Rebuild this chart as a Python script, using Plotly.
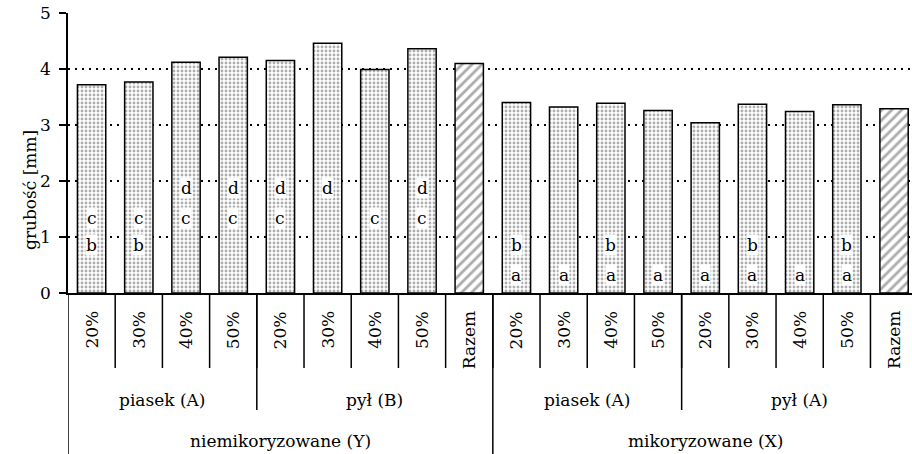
import plotly.graph_objects as go

# Thickness (mm) for each substrate concentration, grouped by substrate and mycorrhiza
konc = ["20%", "30%", "40%", "50%", "20%", "30%", "40%", "50%", "Razem",
        "20%", "30%", "40%", "50%", "20%", "30%", "40%", "50%", "Razem"]
grubosc = [3.72, 3.77, 4.12, 4.21, 4.15, 4.46, 3.99, 4.36, 4.10,
           3.40, 3.32, 3.39, 3.26, 3.04, 3.37, 3.24, 3.36, 3.29]
# homogeneous groups (letters) written inside each bar
litery = ["bc", "bc", "cd", "cd", "cd", "d", "c", "cd", "",
          "ab", "a", "ab", "a", "a", "ab", "a", "ab", ""]
# substrate groups: (label, first bar, last bar)
podloze = [("piasek (A)", 0, 3), ("pył (B)", 4, 8),
           ("piasek (A)", 9, 12), ("pył (A)", 13, 17)]
# mycorrhiza groups: (label, first bar, last bar)
mikoryza = [("niemikoryzowane (Y)", 0, 8), ("mikoryzowane (X)", 9, 17)]
y_ticks = [0, 1, 2, 3, 4, 5]

FONT = "DejaVu Serif"
W, H = 912, 454
ML, MR, MT, MB = 68, 0, 13, 161
PH = H - MT - MB


def py(pix):
    """pixel row -> paper y"""
    return (H - MB - pix) / PH


x = list(range(len(grubosc)))
is_total = [k == "Razem" for k in konc]

fig = go.Figure()
fig.add_trace(go.Bar(
    x=x, y=grubosc, width=0.6,
    marker=dict(
        color="white",
        line=dict(color="black", width=1.5),
        pattern=dict(
            shape=["/" if t else "." for t in is_total],
            fgcolor=["#5a5a5a" if t else "#5e5e5e" for t in is_total],
            bgcolor="white",
            size=[7 if t else 4 for t in is_total],
            solidity=[0.4 if t else 0.4 for t in is_total],
        ),
    ),
    hoverinfo="skip",
    showlegend=False,
))

annotations = []
shapes = []

# letters inside bars at fixed levels
poziom = {"a": 0.33, "b": 0.85, "c": 1.34, "d": 1.88}
for i, lit in enumerate(litery):
    for ch in lit:
        annotations.append(dict(
            x=i, y=poziom[ch], xref="x", yref="y", text=ch, showarrow=False,
            font=dict(family=FONT, size=17, color="black"),
            bgcolor="white", borderpad=0,
        ))

# rotated concentration labels
for i, k in enumerate(konc):
    annotations.append(dict(
        x=i, y=py(309), xref="x", yref="paper", text=k, showarrow=False,
        textangle=-90, yanchor="top", xanchor="center",
        font=dict(family=FONT, size=17, color="black"),
    ))

# substrate labels
for lab, a, b in podloze:
    annotations.append(dict(
        x=(a + b) / 2, y=py(400), xref="x", yref="paper", text=lab,
        showarrow=False, yanchor="middle",
        font=dict(family=FONT, size=17, color="black"),
    ))

# mycorrhiza labels
for lab, a, b in mikoryza:
    annotations.append(dict(
        x=(a + b) / 2, y=py(441), xref="x", yref="paper", text=lab,
        showarrow=False, yanchor="middle",
        font=dict(family=FONT, size=17, color="black"),
    ))

# y axis title
annotations.append(dict(
    x=(18 - ML) / (W - ML - MR), y=py(190), xref="paper", yref="paper",
    text="grubość [mm]", showarrow=False, textangle=-90,
    font=dict(family=FONT, size=17, color="black"),
))

line = dict(color="black", width=1.5)
# separators between individual bars
for i in range(len(konc) - 1):
    shapes.append(dict(type="line", xref="x", yref="paper",
                       x0=i + 0.5, x1=i + 0.5, y0=0, y1=py(368), line=line))
# separators between substrate groups
for lab, a, b in podloze[:-1]:
    if b + 1 != mikoryza[1][1]:
        shapes.append(dict(type="line", xref="x", yref="paper",
                           x0=b + 0.5, x1=b + 0.5, y0=0, y1=py(410), line=line))
# separators between mycorrhiza groups and left border
for lab, a, b in mikoryza:
    shapes.append(dict(type="line", xref="x", yref="paper",
                       x0=a - 0.5, x1=a - 0.5, y0=0, y1=py(H + 2), line=line))

fig.update_layout(
    width=W, height=H,
    margin=dict(l=ML, r=MR, t=MT, b=MB, pad=0),
    plot_bgcolor="white", paper_bgcolor="white",
    annotations=annotations, shapes=shapes,
    xaxis=dict(
        range=[-0.5, 17.38], showticklabels=False, ticks="",
        showgrid=False, zeroline=False,
        showline=True, linecolor="black", linewidth=1.5,
    ),
    yaxis=dict(
        range=[0, 5], tickvals=y_ticks, ticks="outside", ticklen=7,
        tickwidth=1.5, tickcolor="black",
        tickfont=dict(family=FONT, size=17, color="black"),
        ticklabelstandoff=5,
        showline=True, linecolor="black", linewidth=1.5,
        showgrid=True, gridcolor="black", gridwidth=1.5, griddash="2px,5px",
        zeroline=False,
    ),
    bargap=0.4,
)

fig.write_html("out.html")
